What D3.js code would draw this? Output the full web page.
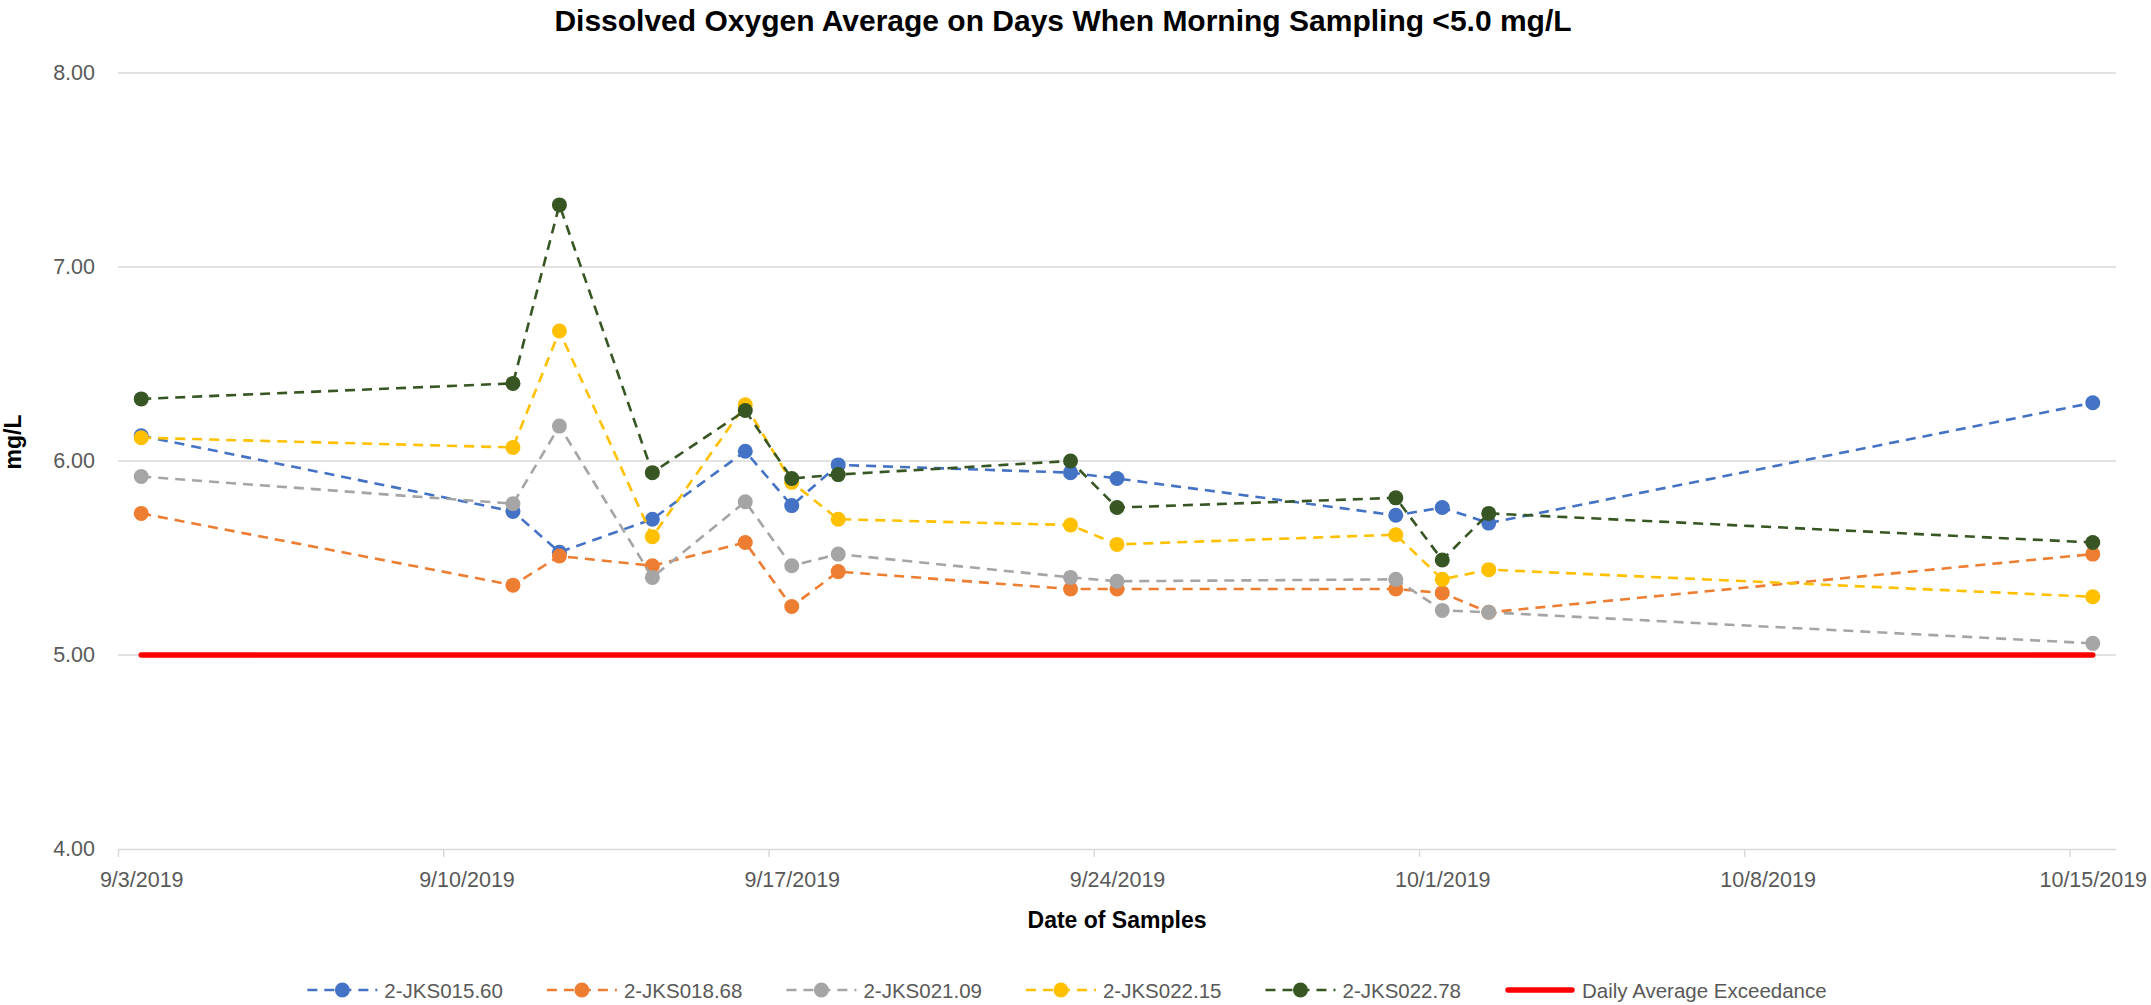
<!DOCTYPE html>
<html>
<head>
<meta charset="utf-8">
<script src="https://cdn.jsdelivr.net/npm/d3@7"></script>
<style>
  html, body { margin: 0; padding: 0; background: #fff; }
  svg { display: block; font-family: "Liberation Sans", Arial, sans-serif; }
</style>
</head>
<body>
<svg id="chart" width="2151" height="1005"></svg>
<script>
// ---------------- DATA ----------------
const dates = ["2019-09-03","2019-09-11","2019-09-12","2019-09-14","2019-09-16","2019-09-17",
               "2019-09-18","2019-09-23","2019-09-24","2019-09-30","2019-10-01","2019-10-02","2019-10-15"];
const seriesNames = ["2-JKS015.60","2-JKS018.68","2-JKS021.09","2-JKS022.15","2-JKS022.78"];
const jks01560 = [6.13, 5.74, 5.53, 5.70, 6.05, 5.77, 5.98, 5.94, 5.91, 5.72, 5.76, 5.68, 6.30];
const jks01868 = [5.73, 5.36, 5.51, 5.46, 5.58, 5.25, 5.43, 5.34, 5.34, 5.34, 5.32, 5.22, 5.52];
const jks02109 = [5.92, 5.78, 6.18, 5.40, 5.79, 5.46, 5.52, 5.40, 5.38, 5.39, 5.23, 5.22, 5.06];
const jks02215 = [6.12, 6.07, 6.67, 5.61, 6.29, 5.89, 5.70, 5.67, 5.57, 5.62, 5.39, 5.44, 5.30];
const jks02278 = [6.32, 6.40, 7.32, 5.94, 6.26, 5.91, 5.93, 6.00, 5.76, 5.81, 5.49, 5.73, 5.58];
const exceedName = "Daily Average Exceedance";
const exceedDates = ["2019-09-03","2019-10-15"];
const exceedValues = [5.0, 5.0];
const yTicks = [4, 5, 6, 7, 8];
const xTickDates = ["2019-09-03","2019-09-10","2019-09-17","2019-09-24","2019-10-01","2019-10-08","2019-10-15"];
const xTickLabels = ["9/3/2019","9/10/2019","9/17/2019","9/24/2019","10/1/2019","10/8/2019","10/15/2019"];
const titleText = "Dissolved Oxygen Average on Days When Morning Sampling <5.0 mg/L";
const xTitle = "Date of Samples";
const yTitle = "mg/L";

// ---------------- STYLE ----------------
const colors = ["#4472C4", "#ED7D31", "#A5A5A5", "#FFC000", "#375623"];
const seriesValues = [jks01560, jks01868, jks02109, jks02215, jks02278];

(function draw() {
const svg = d3.select("#chart");
const pL = 118, pR = 2116, pT = 73, pB = 849;

const parse = d3.utcParse("%Y-%m-%d");
const dayMs = 864e5;
const x = d3.scaleUtc()
  .domain([parse("2019-09-03"), new Date(+parse("2019-10-15") + dayMs)])
  .range([pL, pR]);
const mid = s => new Date(+parse(s) + dayMs / 2);
const dayW = x(new Date(+parse("2019-09-03") + dayMs)) - x(parse("2019-09-03"));

const y = d3.scaleLinear().domain([4, 8]).range([pB, pT]);

// Title
svg.append("text")
  .attr("x", 1063).attr("y", 31)
  .attr("text-anchor", "middle")
  .attr("font-size", 30).attr("font-weight", "bold").attr("fill", "#000")
  .text(titleText);

// Gridlines
svg.append("g").selectAll("line").data(yTicks.filter(d => d !== 4)).join("line")
  .attr("x1", pL).attr("x2", pR)
  .attr("y1", d => y(d)).attr("y2", d => y(d))
  .attr("stroke", "#D9D9D9").attr("stroke-width", 1.5);

// Y axis labels
const yAxis = d3.axisLeft(y).tickValues(yTicks).tickFormat(d3.format(".2f")).tickSize(0).tickPadding(0);
const gy = svg.append("g").attr("transform", `translate(${pL - 23},0)`).call(yAxis);
gy.select(".domain").remove();
gy.selectAll("text").attr("font-size", 21.5).attr("fill", "#595959")
  .attr("font-family", "Liberation Sans, Arial, sans-serif");

// X axis
const xAxis = d3.axisBottom(x).tickValues(xTickDates.map(parse)).tickSize(8)
  .tickFormat((d, i) => xTickLabels[i]);
const gx = svg.append("g").attr("transform", `translate(0,${pB})`).call(xAxis);
gx.select(".domain").attr("stroke", "#D9D9D9").attr("stroke-width", 1.5)
  .attr("d", `M${pL},0.5H${pR}`);
gx.selectAll(".tick line").attr("stroke", "#D9D9D9").attr("stroke-width", 1.5);
gx.selectAll(".tick text")
  .attr("x", dayW / 2).attr("y", 0).attr("dy", 0)
  .attr("transform", "translate(0,38)")
  .attr("font-size", 21.5).attr("fill", "#595959")
  .attr("font-family", "Liberation Sans, Arial, sans-serif");

// Axis titles
svg.append("text")
  .attr("x", (pL + pR) / 2).attr("y", 928)
  .attr("text-anchor", "middle")
  .attr("font-size", 23).attr("font-weight", "bold").attr("fill", "#000")
  .text(xTitle);
svg.append("text")
  .attr("transform", `translate(21,442) rotate(-90)`)
  .attr("text-anchor", "middle")
  .attr("font-size", 23).attr("font-weight", "bold").attr("fill", "#000")
  .text(yTitle);

// Series
const line = d3.line().x(d => x(mid(d.date))).y(d => y(d.value));
const plot = svg.append("g");
seriesValues.forEach((vals, i) => {
  const data = dates.map((d, j) => ({ date: d, value: vals[j] }));
  const g = plot.append("g");
  g.append("path").datum(data)
    .attr("d", line)
    .attr("fill", "none").attr("stroke", colors[i])
    .attr("stroke-width", 2.6).attr("stroke-dasharray", "10,7");
  g.selectAll("circle").data(data).join("circle")
    .attr("cx", d => x(mid(d.date))).attr("cy", d => y(d.value))
    .attr("r", 7.5).attr("fill", colors[i]);
});
// Exceedance line
plot.append("path")
  .datum(exceedDates.map((d, j) => ({ date: d, value: exceedValues[j] })))
  .attr("d", line)
  .attr("fill", "none").attr("stroke", "#FF0000")
  .attr("stroke-width", 5.5).attr("stroke-linecap", "round");

// Legend
const legend = svg.append("g");
const legItems = seriesNames.map((n, i) => ({ name: n, color: colors[i], dashed: true }))
  .concat([{ name: exceedName, color: "#FF0000", dashed: false }]);
let cx = 0;
const ly = 990;
const gap = 44;
legItems.forEach(it => {
  const g = legend.append("g").attr("transform", `translate(${cx},0)`);
  if (it.dashed) {
    g.append("line").attr("x1", 0).attr("x2", 70).attr("y1", ly).attr("y2", ly)
      .attr("stroke", it.color).attr("stroke-width", 2.6).attr("stroke-dasharray", "10,7");
    g.append("circle").attr("cx", 35).attr("cy", ly).attr("r", 7.5).attr("fill", it.color);
  } else {
    g.append("line").attr("x1", 3).attr("x2", 67).attr("y1", ly).attr("y2", ly)
      .attr("stroke", it.color).attr("stroke-width", 5.5).attr("stroke-linecap", "round");
  }
  const t = g.append("text").attr("x", 77).attr("y", ly + 8)
    .attr("font-size", 20.5).attr("fill", "#595959").text(it.name);
  const w = t.node().getComputedTextLength();
  cx += 77 + w + gap;
});
const totalW = cx - gap;
legend.attr("transform", `translate(${1067 - totalW / 2},0)`);
})();
</script>
</body>
</html>
